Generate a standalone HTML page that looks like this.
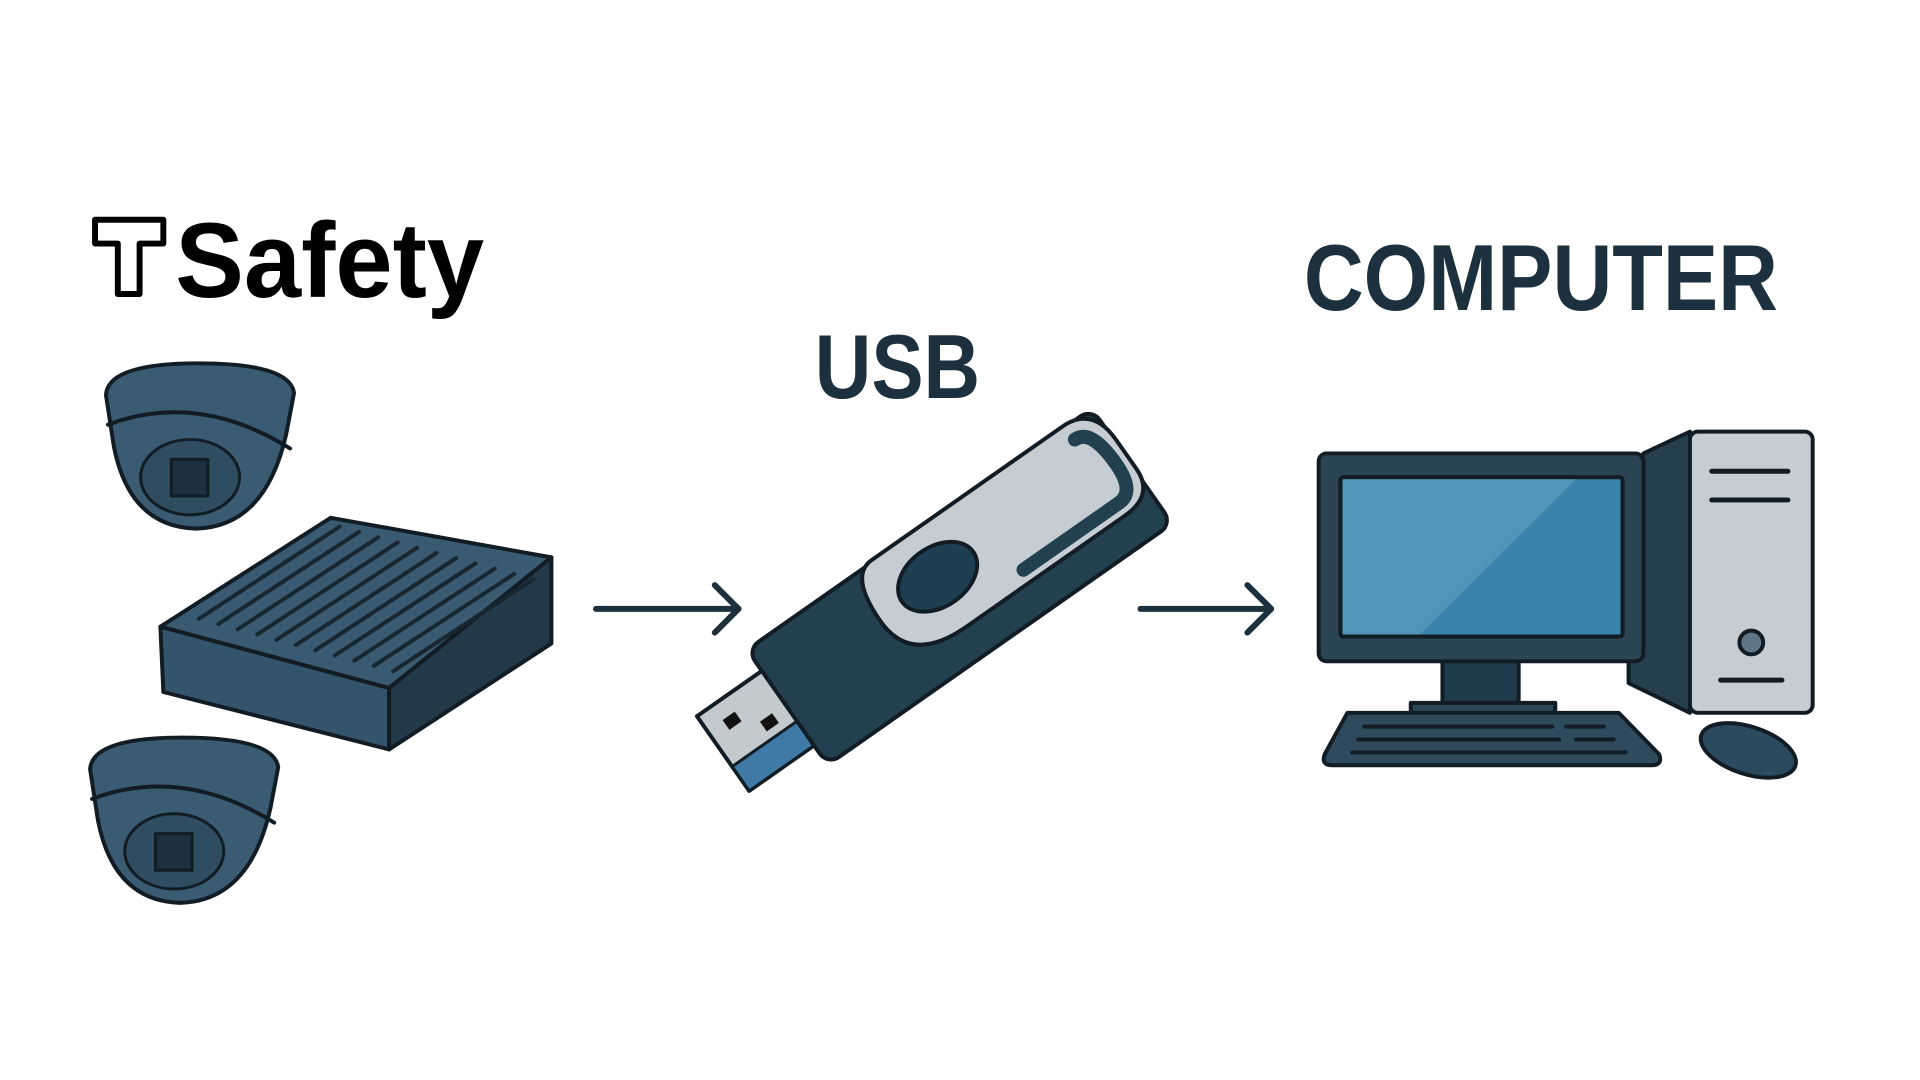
<!DOCTYPE html>
<html><head><meta charset="utf-8"><style>
html,body{margin:0;padding:0;background:#fff;width:1920px;height:1080px;overflow:hidden}
svg{display:block}
</style></head><body>
<svg width="1920" height="1080" viewBox="0 0 1920 1080" xmlns="http://www.w3.org/2000/svg">
<defs>
<g id="cam">
<path d="M4 32 Q6 0 97 0 Q190 0 194 30 L186 72 Q165 165 95 167 Q28 165 12 84 Z" fill="#3b5b72"/>
<path d="M6 62 Q97 28 190 86" fill="none"/>
<ellipse cx="89" cy="115" rx="50" ry="38" fill="#2f4c61" stroke-width="3"/>
<rect x="70" y="97" width="37" height="37" fill="#1c3040" stroke-width="3"/>
</g>
<line id="rid" x1="201" y1="625" x2="343" y2="532"/>
</defs>
<g transform="scale(0.99)">
<path d="M96 222 H165 V246 H141 V297 H119 V246 H96 Z" fill="#fff" stroke="#000" stroke-width="6" stroke-linejoin="round"/>
<text x="177" y="300" font-family="Liberation Sans, sans-serif" font-weight="bold" font-size="108" textLength="312" lengthAdjust="spacingAndGlyphs" fill="#000">Safety</text>
<text x="823" y="402" font-family="Liberation Sans, sans-serif" font-weight="bold" font-size="92" textLength="167" lengthAdjust="spacingAndGlyphs" fill="#1c313d">USB</text>
<text x="1317" y="313" font-family="Liberation Sans, sans-serif" font-weight="bold" font-size="95" textLength="479" lengthAdjust="spacingAndGlyphs" fill="#1c313d">COMPUTER</text>

<g stroke="#111c24" stroke-width="4" stroke-linejoin="round" stroke-linecap="round">
<use href="#cam" transform="translate(103,367)"/>
<use href="#cam" transform="translate(87,745)"/>
<path d="M162 633 L334 523 L557 563 L393 695 Z" fill="#3a5a71"/>
<path d="M162 633 L393 695 L393 757 L165 699 Z" fill="#34546b"/>
<path d="M393 695 L557 563 L557 650 L393 757 Z" fill="#22394a"/>
<g stroke-width="4" stroke="#17262f">
<use href="#rid"/><use href="#rid" transform="translate(19.6,5.3)"/><use href="#rid" transform="translate(39.2,10.6)"/><use href="#rid" transform="translate(58.8,15.9)"/><use href="#rid" transform="translate(78.4,21.2)"/><use href="#rid" transform="translate(98,26.5)"/><use href="#rid" transform="translate(117.6,31.8)"/><use href="#rid" transform="translate(137.2,37.1)"/><use href="#rid" transform="translate(156.8,42.4)"/><use href="#rid" transform="translate(176.4,47.7)"/><use href="#rid" transform="translate(196,53)"/>
</g>

<g stroke="#1c313d" stroke-width="6" fill="none">
<line x1="602" y1="615" x2="746" y2="615"/><polyline points="722,591 746,615 722,639"/>
<line x1="1152" y1="615" x2="1284" y2="615"/><polyline points="1260,591 1284,615 1260,639"/>
</g>

<g transform="translate(972,592) rotate(-35)">
<rect x="-295" y="-46" width="85" height="92" fill="#c3cace"/>
<rect x="-295" y="16" width="85" height="30" fill="#3f7aa6" stroke-width="3"/>
<rect x="-276" y="-28" width="15" height="12" fill="#111" stroke="none"/>
<rect x="-246" y="-5" width="15" height="12" fill="#111" stroke="none"/>
<rect x="-215" y="-72" width="425" height="142" rx="14" fill="#22404f"/>
<path d="M-60 -74 H175 Q212 -74 212 -32 V4 Q212 36 175 36 H-20 Q-88 36 -88 -18 Q-88 -74 -60 -74 Z" fill="#c6cdd2"/>
<path d="M60 22 H178 Q198 22 198 -12 Q198 -56 178 -56" fill="none" stroke="#22404f" stroke-width="14"/>
<ellipse cx="-15" cy="-22" rx="44" ry="30" fill="#1f3e52"/>
</g>

<path d="M1660 458 L1707 436 L1707 720 L1645 690 L1645 668 Z" fill="#263f4e"/>
<rect x="1707" y="436" width="124" height="284" rx="8" fill="#c6cdd2"/>
<g stroke-width="5"><line x1="1729" y1="476" x2="1806" y2="476"/><line x1="1729" y1="505" x2="1806" y2="505"/><line x1="1738" y1="687" x2="1800" y2="687"/></g>
<circle cx="1769" cy="649" r="12" fill="#5e7686"/>
<rect x="1457" y="664" width="77" height="48" fill="#1f3a4b"/>
<rect x="1425" y="710" width="146" height="11" fill="#2b4657"/>
<rect x="1332" y="458" width="328" height="210" rx="8" fill="#2c4555"/>
<rect x="1354" y="482" width="285" height="161" rx="3" fill="#3a84ad"/>
<path d="M1356 484 L1592 484 L1434 641 L1356 641 Z" fill="#5195b9" stroke="none"/>
<rect x="1354" y="482" width="285" height="161" rx="3" fill="none"/>
<path d="M1361 720 L1635 720 L1676 762 Q1680 773 1668 773 L1346 773 Q1334 773 1338 762 Z" fill="#2e4a5c"/>
<g stroke-width="4"><line x1="1378" y1="734" x2="1568" y2="734"/><line x1="1582" y1="734" x2="1620" y2="734"/><line x1="1372" y1="747" x2="1575" y2="747"/><line x1="1592" y1="747" x2="1630" y2="747"/><line x1="1366" y1="760" x2="1642" y2="760"/></g>
<ellipse cx="1766" cy="758" rx="50" ry="24" transform="rotate(18 1766 758)" fill="#2b4a5e"/>
</g>
</g>
</svg>
</body></html>
